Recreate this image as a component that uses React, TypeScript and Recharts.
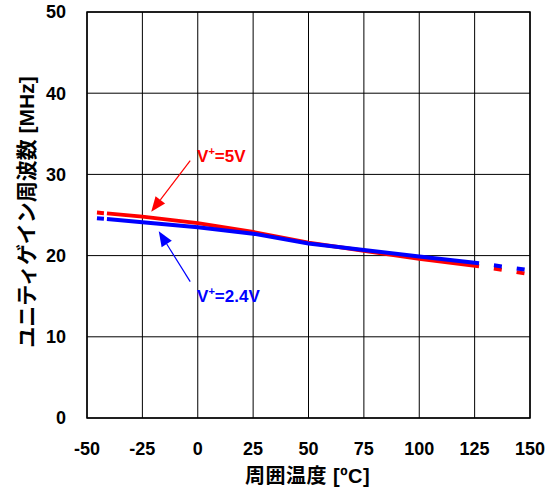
import React from "react"
import { CartesianGrid, Label, Line, LineChart, ReferenceArea, ReferenceDot, ReferenceLine, XAxis, YAxis } from "recharts"

// 周囲温度 [ºC]
const temps = [-41, -25, 0, 25, 50, 75, 100, 127]
const red5V = [25.2, 24.8, 24.0, 22.9, 21.6, 20.6, 19.6, 18.7]
const blue24V = [24.5, 24.1, 23.5, 22.7, 21.5, 20.7, 19.9, 19.05]

// dashed extensions beyond the guaranteed range
const leftTemps = [-45.5, -41]
const redLeft = [25.3, 25.2]
const blueLeft = [24.6, 24.5]
const rightTemps = [127, 150]
const redRight = [18.7, 17.7]
const blueRight = [19.05, 18.2]

const xTicks = [-50, -25, 0, 25, 50, 75, 100, 125, 150]
const yTicks = [0, 10, 20, 30, 40, 50]

const font = "'Liberation Sans', Arial, 'Noto Sans CJK JP', sans-serif"

const toRows = (xs: number[], ys: number[]) => xs.map((t, i) => ({ t, v: ys[i] }))

const arrowShape = (color: string) => (props: any) => {
  const { x1, y1, x2, y2 } = props
  const ang = Math.atan2(y2 - y1, x2 - x1)
  const len = 15
  const half = 6
  const bx = x2 - len * Math.cos(ang)
  const by = y2 - len * Math.sin(ang)
  const px = -Math.sin(ang) * half
  const py = Math.cos(ang) * half
  return (
    <g>
      <line x1={x1} y1={y1} x2={bx} y2={by} stroke={color} strokeWidth={1.2} />
      <polygon points={`${x2},${y2} ${bx + px},${by + py} ${bx - px},${by - py}`} fill={color} />
    </g>
  )
}

const tagShape = (color: string, tail: string) => (props: any) => (
  <text x={props.cx} y={props.cy} fill={color} fontFamily={font} fontWeight="bold" fontSize={17}>
    V<tspan fontSize={11} dy={-7}>+</tspan>
    <tspan dy={7}>{tail}</tspan>
  </text>
)

export default function App() {
  return (
    <div style={{ position: "absolute", left: 0, top: 0, background: "#fff" }}>
      <LineChart width={554} height={492} margin={{ top: 12, right: 24, left: 0, bottom: 0 }}>
        <CartesianGrid stroke="#000" strokeWidth={1} />
        <XAxis
          type="number"
          dataKey="t"
          domain={[-50, 150]}
          ticks={xTicks}
          allowDataOverflow
          height={74}
          axisLine={false}
          tickLine={false}
          tickSize={0}
          tickMargin={24}
          tick={{ fill: "#000", fontSize: 18, fontWeight: "bold", fontFamily: font }}
        >
          <Label
            content={(p: any) => (
              <text x={p.viewBox.x + p.viewBox.width / 2 - 1} y={p.viewBox.y + 65} textAnchor="middle" fill="#000" fontFamily={font} fontWeight="bold" fontSize={20} letterSpacing={0.5}>
                周囲温度 [ºC]
              </text>
            )}
          />
        </XAxis>
        <YAxis
          type="number"
          domain={[0, 50]}
          ticks={yTicks}
          width={87}
          axisLine={false}
          tickLine={false}
          tickSize={0}
          tickMargin={21}
          tick={{ fill: "#000", fontSize: 18, fontWeight: "bold", fontFamily: font }}
        >
          <Label
            content={(p: any) => {
              const cx = 26
              const cy = p.viewBox.y + 200
              return (
                <text x={cx} y={cy} transform={`rotate(-90 ${cx} ${cy})`} textAnchor="middle" dominantBaseline="central" fill="#000" fontFamily={font} fontWeight="bold" fontSize={21}>
                  ユニティゲイン周波数 [MHz]
                </text>
              )
            }}
          />
        </YAxis>
        <ReferenceArea x1={-50} x2={150} y1={0} y2={50} fill="none" stroke="#000" strokeWidth={1.5} ifOverflow="visible" />

        <Line data={toRows(temps, red5V)} dataKey="v" stroke="#ff0000" strokeWidth={4} dot={false} isAnimationActive={false} />
        <Line data={toRows(leftTemps, redLeft)} dataKey="v" stroke="#ff0000" strokeWidth={4} strokeDasharray="7 20" dot={false} isAnimationActive={false} />
        <Line data={toRows(rightTemps, redRight)} dataKey="v" stroke="#ff0000" strokeWidth={4} strokeDasharray="0 15 8 15 8 15" dot={false} isAnimationActive={false} />
        <Line data={toRows(temps, blue24V)} dataKey="v" stroke="#0000ff" strokeWidth={4} dot={false} isAnimationActive={false} />
        <Line data={toRows(leftTemps, blueLeft)} dataKey="v" stroke="#0000ff" strokeWidth={4} strokeDasharray="7 20" dot={false} isAnimationActive={false} />
        <Line data={toRows(rightTemps, blueRight)} dataKey="v" stroke="#0000ff" strokeWidth={4} strokeDasharray="0 15 8 15 8 15" dot={false} isAnimationActive={false} />

        <ReferenceLine segment={[{ x: -3.4, y: 31.7 }, { x: -21.0, y: 25.4 }]} shape={arrowShape("#ff0000")} />
        <ReferenceLine segment={[{ x: -3.4, y: 16.8 }, { x: -17.6, y: 23.0 }]} shape={arrowShape("#0000ff")} />
        <ReferenceDot x={-0.3} y={31.5} r={0} shape={tagShape("#ff0000", "=5V")} />
        <ReferenceDot x={-0.3} y={14.3} r={0} shape={tagShape("#0000ff", "=2.4V")} />
      </LineChart>
    </div>
  )
}
